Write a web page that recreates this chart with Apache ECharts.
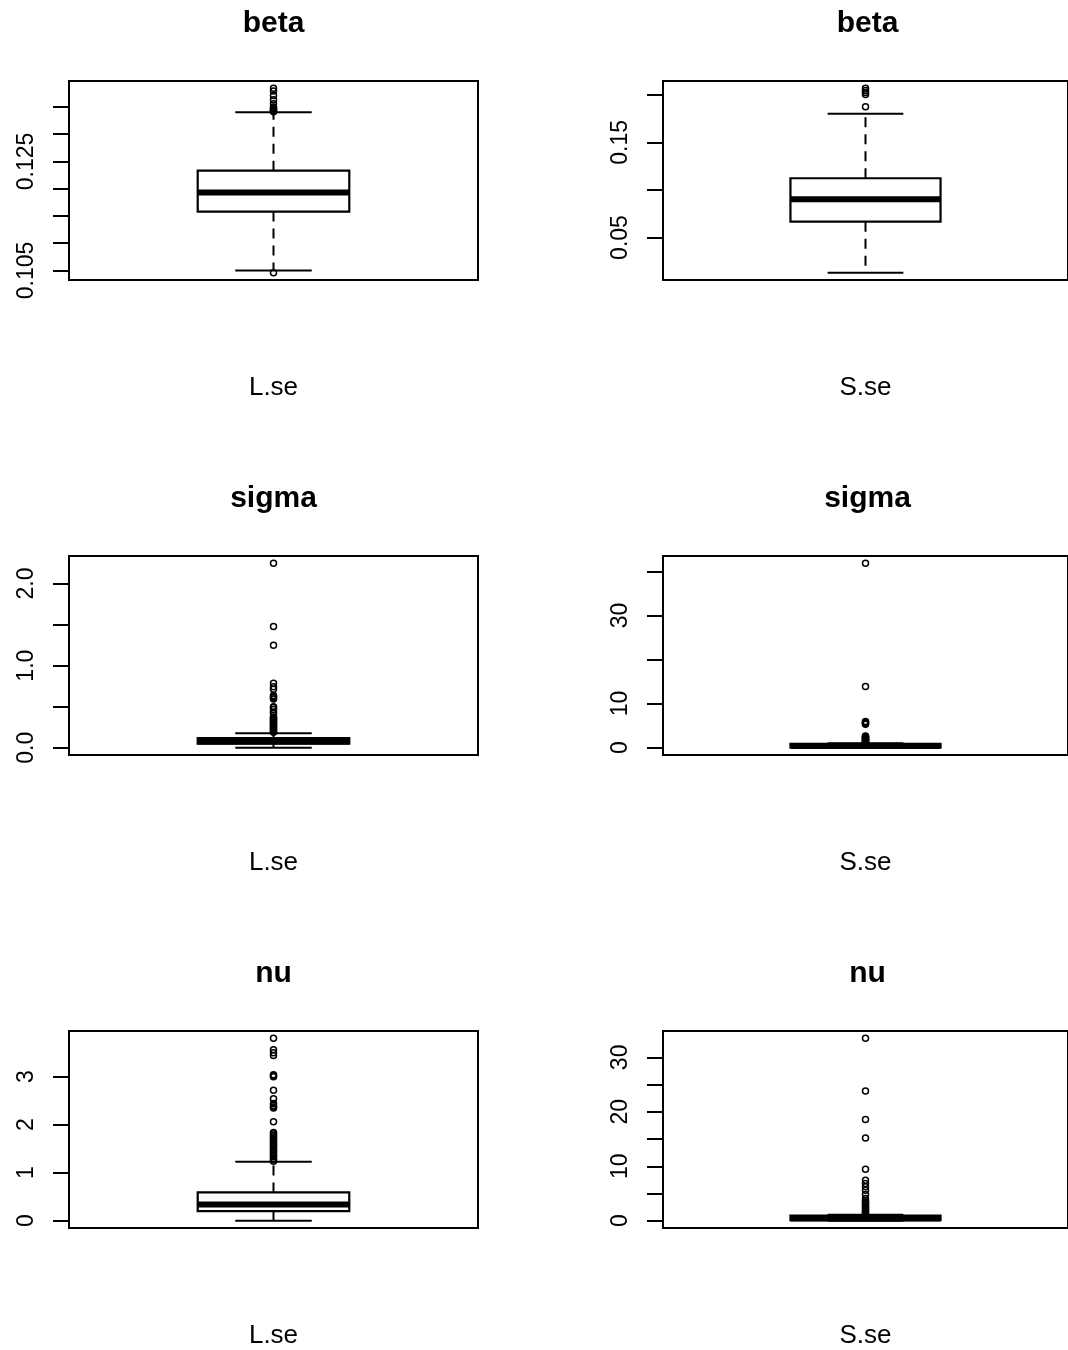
<!DOCTYPE html>
<html>
<head>
<meta charset="utf-8">
<script src="https://cdn.jsdelivr.net/npm/echarts@6/dist/echarts.min.js"></script>
<style>
  html, body { margin: 0; padding: 0; background: #fff; }
  #chart { width: 1068px; height: 1350px; }
</style>
</head>
<body>
<div id="chart"></div>
<script>
// Panel titles and group names (row by row, left then right)
const panelTitles = ['beta', 'beta', 'sigma', 'sigma', 'nu', 'nu'];
const groupNames = ['L.se', 'S.se', 'L.se', 'S.se', 'L.se', 'S.se'];

// Five-number summaries: [lower whisker, Q1, median, Q3, upper whisker]
const betaL = [0.1050, 0.1158, 0.1193, 0.1233, 0.1340];
const betaS = [0.0131, 0.0667, 0.0902, 0.1123, 0.1801];
const sigmaL = [0.002, 0.049, 0.077, 0.118, 0.178];
const sigmaS = [0.0, 0.08, 0.35, 0.85, 0.98];
const nuL = [0.0, 0.20, 0.34, 0.59, 1.23];
const nuS = [0.0, 0.10, 0.40, 0.95, 1.08];

// Outlying standard errors
const betaLOut = [0.1046, 0.1341, 0.1343, 0.1344, 0.1346, 0.1348, 0.1350, 0.1356, 0.1363, 0.1371, 0.1379, 0.1384];
const betaSOut = [0.1875, 0.2003, 0.2024, 0.2046, 0.2068];
const sigmaLOut = [0.19, 0.201, 0.212, 0.224, 0.236, 0.247, 0.259, 0.27, 0.283, 0.294, 0.306, 0.318, 0.331,
  0.343, 0.355, 0.368, 0.375, 0.42, 0.437, 0.466, 0.491, 0.50, 0.593, 0.608, 0.621, 0.636, 0.712, 0.744, 0.785,
  1.247, 1.476, 2.245];
const sigmaSOut = [1.0, 1.12, 1.25, 1.38, 1.5, 1.62, 1.75, 1.88, 2.0, 2.12, 2.25, 2.4, 2.52, 2.63,
  5.3, 5.45, 5.6, 5.75, 5.9, 13.85, 41.8];
const nuLOut = [1.24, 1.27, 1.29, 1.33, 1.36, 1.38, 1.42, 1.45, 1.47, 1.51, 1.54, 1.57, 1.6, 1.63, 1.66,
  1.69, 1.72, 1.75, 1.78, 1.81, 1.84, 2.06, 2.35, 2.37, 2.40, 2.44, 2.54, 2.72, 3.00, 3.02, 3.04,
  3.44, 3.50, 3.56, 3.80];
const nuSOut = [1.15, 1.35, 1.55, 1.8, 2.0, 2.25, 2.5, 2.7, 2.95, 3.2, 3.45, 3.66, 4.1, 4.81, 5.6, 6.22,
  6.82, 7.43, 9.44, 15.2, 18.6, 23.8, 33.5];

// Axis tick positions and the tick labels that are printed
const betaLTicks = [0.105, 0.110, 0.115, 0.120, 0.125, 0.130, 0.135];
const betaLLabels = ['0.105', '0.125'];
const betaSTicks = [0.05, 0.10, 0.15, 0.20];
const betaSLabels = ['0.05', '0.15'];
const sigmaLTicks = [0.0, 0.5, 1.0, 1.5, 2.0];
const sigmaLLabels = ['0.0', '1.0', '2.0'];
const sigmaSTicks = [0, 10, 20, 30, 40];
const sigmaSLabels = ['0', '10', '30'];
const nuLTicks = [0, 1, 2, 3];
const nuLLabels = ['0', '1', '2', '3'];
const nuSTicks = [0, 5, 10, 15, 20, 25, 30];
const nuSLabels = ['0', '10', '20', '30'];

const panels = [
  { stats: betaL, out: betaLOut, ticks: betaLTicks, labels: betaLLabels },
  { stats: betaS, out: betaSOut, ticks: betaSTicks, labels: betaSLabels },
  { stats: sigmaL, out: sigmaLOut, ticks: sigmaLTicks, labels: sigmaLLabels },
  { stats: sigmaS, out: sigmaSOut, ticks: sigmaSTicks, labels: sigmaSLabels },
  { stats: nuL, out: nuLOut, ticks: nuLTicks, labels: nuLLabels },
  { stats: nuS, out: nuSOut, ticks: nuSTicks, labels: nuSLabels }
];

const FONT = '"Liberation Sans", Arial, Helvetica, sans-serif';
const colLeft = [69, 663];
const rowTop = [81, 556, 1031];
const plotW = 409;
const plotH = 199;

// Value range padded by 4% on both ends
function paddedRange(stats, out) {
  const all = stats.concat(out);
  const lo = Math.min.apply(null, all);
  const hi = Math.max.apply(null, all);
  const pad = (hi - lo) * 0.04;
  return [lo - pad, hi + pad];
}

// Box, median bar, dashed whiskers and staples
function renderBox(params, api) {
  const cat = api.value(0);
  const band = api.size([1, 0])[0];
  const half = band * 0.1853;
  const capHalf = band * 0.0935;
  const pLo = api.coord([cat, api.value(1)]);
  const pQ1 = api.coord([cat, api.value(2)]);
  const pMed = api.coord([cat, api.value(3)]);
  const pQ3 = api.coord([cat, api.value(4)]);
  const pHi = api.coord([cat, api.value(5)]);
  const x = pMed[0];
  const dashed = { stroke: '#000', lineWidth: 2, lineDash: [10, 7], fill: null };
  const solid = { stroke: '#000', lineWidth: 2, fill: null };
  return {
    type: 'group',
    children: [
      { type: 'line', shape: { x1: x, y1: pQ3[1], x2: x, y2: pHi[1] }, style: dashed },
      { type: 'line', shape: { x1: x, y1: pQ1[1], x2: x, y2: pLo[1] }, style: dashed },
      { type: 'line', shape: { x1: x - capHalf, y1: pHi[1], x2: x + capHalf, y2: pHi[1] }, style: solid },
      { type: 'line', shape: { x1: x - capHalf, y1: pLo[1], x2: x + capHalf, y2: pLo[1] }, style: solid },
      { type: 'rect', shape: { x: x - half, y: pQ3[1], width: 2 * half, height: pQ1[1] - pQ3[1] },
        style: { fill: '#fff', stroke: '#000', lineWidth: 2.2 } },
      { type: 'line', shape: { x1: x - half, y1: pMed[1], x2: x + half, y2: pMed[1] },
        style: { stroke: '#000', lineWidth: 6 } }
    ]
  };
}

const grids = [], xAxes = [], yAxes = [], series = [], titles = [];

panels.forEach(function (p, i) {
  const col = i % 2;
  const row = Math.floor(i / 2);
  const left = colLeft[col];
  const top = rowTop[row];
  const range = paddedRange(p.stats, p.out);
  const labelVals = p.labels.map(Number);

  grids.push({
    left: left, top: top, width: plotW, height: plotH,
    show: true, borderColor: '#000', borderWidth: 2, backgroundColor: 'transparent'
  });

  xAxes.push({
    type: 'category', gridIndex: i, data: [groupNames[i]],
    axisLine: { show: false }, axisTick: { show: false }, axisLabel: { show: false },
    splitLine: { show: false },
    name: groupNames[i], nameLocation: 'middle', nameGap: 95,
    nameTextStyle: { fontSize: 26, color: '#000', fontFamily: FONT }
  });

  yAxes.push({
    type: 'value', gridIndex: i, min: range[0], max: range[1],
    axisLine: { show: false },
    splitLine: { show: false },
    axisTick: { show: true, length: 16, lineStyle: { color: '#000', width: 2 }, customValues: p.ticks },
    axisLabel: {
      customValues: labelVals, rotate: 90, margin: 31,
      fontSize: 23, color: '#000', fontFamily: FONT,
      formatter: function (v) {
        for (let k = 0; k < labelVals.length; k++) {
          if (Math.abs(labelVals[k] - v) < 1e-9) return p.labels[k];
        }
        return '';
      }
    }
  });

  series.push({
    type: 'custom', xAxisIndex: i, yAxisIndex: i,
    renderItem: renderBox,
    encode: { x: 0, y: [1, 2, 3, 4, 5] },
    data: [[0].concat(p.stats)],
    silent: true, z: 2
  });

  series.push({
    type: 'scatter', xAxisIndex: i, yAxisIndex: i,
    data: p.out.map(function (v) { return [0, v]; }),
    symbol: 'circle', symbolSize: 6,
    itemStyle: { color: 'rgba(0,0,0,0)', borderColor: '#000', borderWidth: 1.5, opacity: 1 },
    silent: true, z: 3
  });

  titles.push({
    text: panelTitles[i],
    left: left + plotW / 2, top: top - 72, textAlign: 'center', padding: 0,
    textStyle: { fontSize: 30, fontWeight: 'bold', color: '#000', fontFamily: FONT }
  });
});

const chart = echarts.init(document.getElementById('chart'), null, { renderer: 'canvas' });
chart.setOption({
  animation: false,
  backgroundColor: '#fff',
  title: titles,
  grid: grids,
  xAxis: xAxes,
  yAxis: yAxes,
  series: series
});
</script>
</body>
</html>
